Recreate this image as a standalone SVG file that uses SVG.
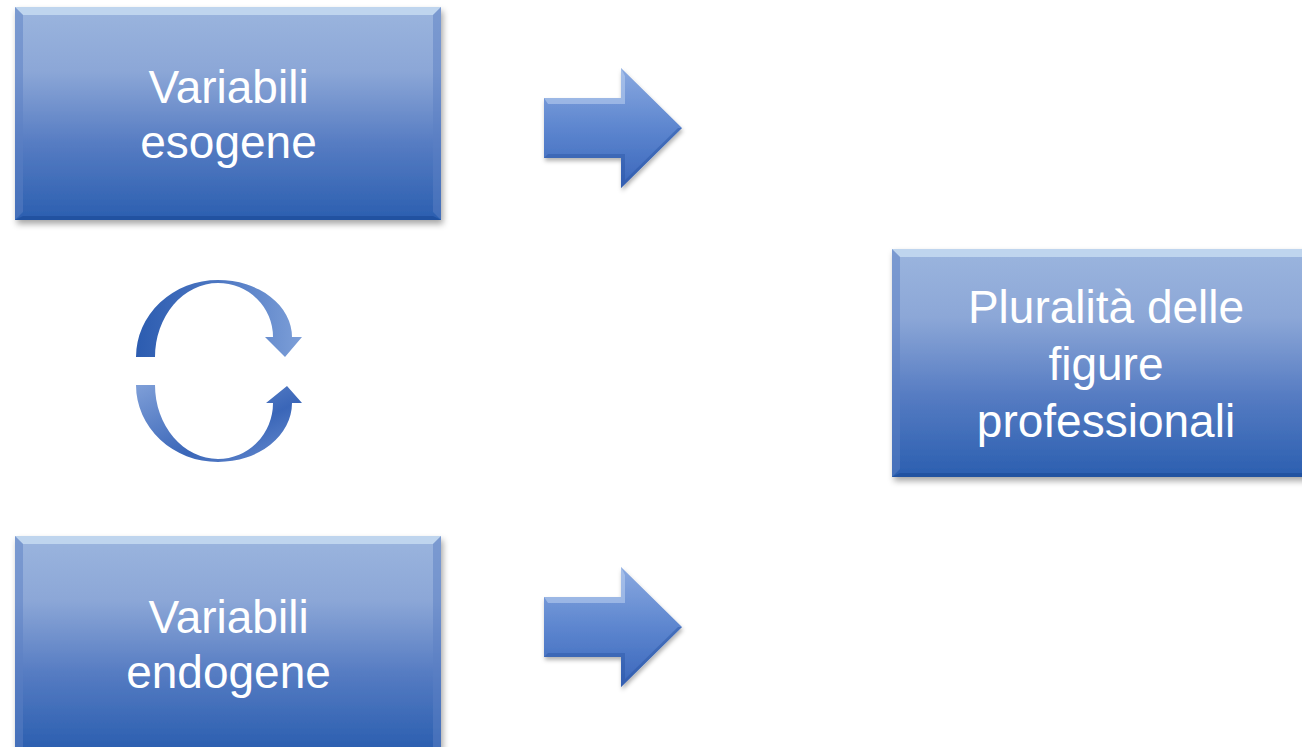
<svg xmlns="http://www.w3.org/2000/svg" width="1302" height="747" viewBox="0 0 1302 747">
<defs>
<linearGradient id="boxG" x1="0" y1="0" x2="0" y2="1">
<stop offset="0" stop-color="#9bb5de"/>
<stop offset="0.3" stop-color="#8ca7d7"/>
<stop offset="0.65" stop-color="#557bc2"/>
<stop offset="1" stop-color="#2b5fb0"/>
</linearGradient>
<linearGradient id="arrG" x1="0" y1="0" x2="0" y2="1">
<stop offset="0" stop-color="#8aa9e0"/>
<stop offset="0.5" stop-color="#5d86cf"/>
<stop offset="1" stop-color="#3a66bb"/>
</linearGradient>
<linearGradient id="cycG" x1="0" y1="0" x2="1" y2="0">
<stop offset="0" stop-color="#2c5cb0"/>
<stop offset="0.5" stop-color="#4d77c2"/>
<stop offset="1" stop-color="#7d9fd8"/>
</linearGradient>
<linearGradient id="cycG2" x1="0" y1="0" x2="1" y2="1">
<stop offset="0" stop-color="#7f9fd8"/>
<stop offset="0.6" stop-color="#3a66b8"/>
<stop offset="1" stop-color="#6c90d2"/>
</linearGradient>
<filter id="sh" x="-5%" y="-5%" width="112%" height="115%">
<feDropShadow dx="2" dy="4" stdDeviation="3" flood-color="#000" flood-opacity="0.35"/>
</filter>
<filter id="sh2" x="-10%" y="-10%" width="125%" height="125%">
<feDropShadow dx="1" dy="3" stdDeviation="2" flood-color="#000" flood-opacity="0.3"/>
</filter>
</defs>
<style>
.box{fill:url(#boxG);}
.bev-top{fill:#c6dbf1;opacity:0.85;}
.bev-side{fill:#5b7fc4;opacity:0.5;}
.bev-bot{fill:#1f4f9e;opacity:0.8;}
.lbl{font-family:"Liberation Sans",Arial,sans-serif;font-size:46px;fill:#ffffff;text-anchor:middle;}
.arr{fill:url(#arrG);}
</style>
<rect width="1302" height="747" fill="#ffffff"/>

<g id="node-esogene">
<g filter="url(#sh)">
<rect class="box" x="15" y="7" width="426" height="213"/>
</g>
<polygon class="bev-top" points="15,7 441,7 433,15 23,15"/>
<polygon class="bev-side" points="15,7 23,15 23,212 15,220"/>
<polygon class="bev-side" points="441,7 433,15 433,212 441,220"/>
<polygon class="bev-bot" points="15,220 23,216 433,216 441,220"/>
<text class="lbl" x="228.5" y="103">Variabili</text>
<text class="lbl" x="228.5" y="158">esogene</text>
</g>

<g id="node-endogene">
<g filter="url(#sh)">
<rect class="box" x="15" y="536" width="426" height="213"/>
</g>
<polygon class="bev-top" points="15,536 441,536 433,544 23,544"/>
<polygon class="bev-side" points="15,536 23,544 23,747 15,747"/>
<polygon class="bev-side" points="441,536 433,544 433,747 441,747"/>
<text class="lbl" x="228.5" y="633">Variabili</text>
<text class="lbl" x="228.5" y="688">endogene</text>
</g>

<g id="node-pluralita">
<g filter="url(#sh)">
<rect class="box" x="892" y="249" width="420" height="228"/>
</g>
<polygon class="bev-top" points="892,249 1312,249 1304,257 900,257"/>
<polygon class="bev-side" points="892,249 900,257 900,469 892,477"/>
<polygon class="bev-bot" points="892,477 900,473 1312,473 1312,477"/>
<text class="lbl" x="1106" y="323">Pluralità delle</text>
<text class="lbl" x="1106" y="380">figure</text>
<text class="lbl" x="1106" y="437">professionali</text>
</g>

<g id="connectors">
<g id="arrow-top" filter="url(#sh2)">
<polygon class="arr" points="544,98 621,98 621,68 682,128 621,188 621,158 544,158"/>
<polygon points="544,98 621,98 621,68 625,76 625,104 548,104" fill="#b7cdef" opacity="0.6"/>
<polygon points="544,158 621,158 621,188 682,128 678,128 625,180 625,154 548,154" fill="#2b58a8" opacity="0.5"/>
</g>
<g id="arrow-bottom" filter="url(#sh2)">
<polygon class="arr" points="544,597 621,597 621,567 682,627 621,687 621,657 544,657"/>
<polygon points="544,597 621,597 621,567 625,575 625,603 548,603" fill="#b7cdef" opacity="0.6"/>
<polygon points="544,657 621,657 621,687 682,627 678,627 625,679 625,653 548,653" fill="#2b58a8" opacity="0.5"/>
</g>
<g id="cycle">
<path d="M136,357 A82,77 0 0 1 218,280 A74,57 0 0 1 292,337 L302,337 L285,357 L265,337 L273,337 A55,54 0 0 0 218,283 A63,74 0 0 0 155,357 Z" fill="url(#cycG)"/>
<path d="M136,385 A82,77 0 0 0 218,462 A74,59 0 0 0 292,403 L302,403 L287,386 L266,403 L273,403 A55,56 0 0 1 218,459 A63,74 0 0 1 155,385 Z" fill="url(#cycG2)"/>
</g>
</g>
</svg>
